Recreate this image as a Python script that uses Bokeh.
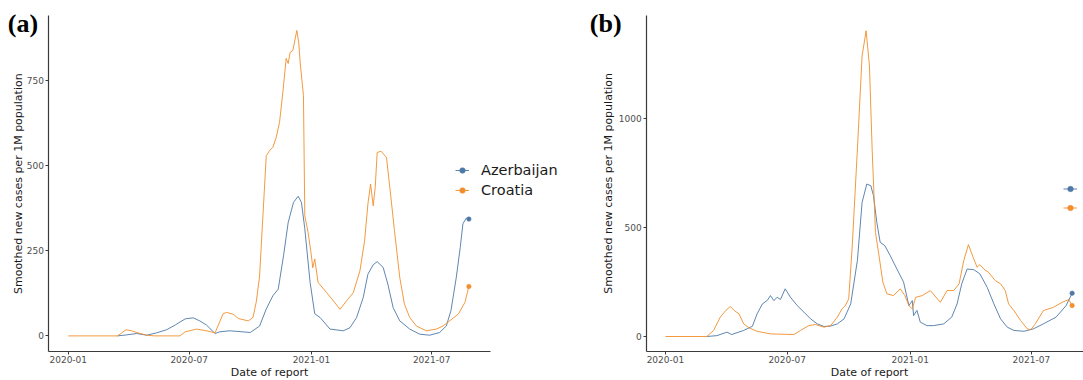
import pandas as pd
from bokeh.plotting import figure
from bokeh.layouts import row
from bokeh.models import (Range1d, FixedTicker, DatetimeTickFormatter, Legend,
                          LegendItem, Label)
from bokeh.embed import file_html
from bokeh.resources import INLINE

COUNTRIES = ["Azerbaijan", "Croatia"]
COLORS = ["#4e79a7", "#f28e2b"]

X_TICKS = ["2020-01-01", "2020-07-01", "2021-01-01", "2021-07-01"]
A_Y_TICKS = [0, 250, 500, 750]
B_Y_TICKS = [0, 500, 1000]
Y_LABEL = "Smoothed new cases per 1M population"
X_LABEL = "Date of report"

# ---------------- panel (a) ----------------
a_aze_dates = ["2020-03-15", "2020-03-29", "2020-04-13", "2020-04-28", "2020-05-13",
               "2020-05-28", "2020-06-10", "2020-06-25", "2020-07-07", "2020-07-17",
               "2020-07-27", "2020-08-09", "2020-08-16", "2020-08-31", "2020-10-01",
               "2020-10-15", "2020-10-25", "2020-11-04", "2020-11-12", "2020-11-20",
               "2020-11-27", "2020-12-05", "2020-12-12", "2020-12-17", "2020-12-22",
               "2020-12-30", "2021-01-06", "2021-01-14", "2021-01-29", "2021-02-18",
               "2021-02-28", "2021-03-10", "2021-03-20", "2021-03-27", "2021-04-04",
               "2021-04-10", "2021-04-19", "2021-04-26", "2021-05-04", "2021-05-14",
               "2021-05-29", "2021-06-13", "2021-06-28", "2021-07-13", "2021-07-23",
               "2021-07-30", "2021-08-07", "2021-08-13", "2021-08-17", "2021-08-22",
               "2021-08-26"]
a_aze_vals = [0, 3, 7, 2, 9,
              18, 32, 50, 53, 44,
              32, 7, 12, 15, 10,
              29, 79, 118, 137, 235,
              333, 392, 410, 392, 315,
              157, 65, 54, 20, 15,
              24, 54, 113, 181, 209,
              218, 201, 152, 83, 44,
              20, 5, 2, 10, 29,
              74, 171, 260, 329, 346,
              343]

a_cro_dates = ["2020-01-01", "2020-03-15", "2020-03-21", "2020-03-28", "2020-04-05",
               "2020-04-13", "2020-04-28", "2020-05-10", "2020-06-17", "2020-06-25",
               "2020-07-12", "2020-07-27", "2020-08-09", "2020-08-21", "2020-08-26",
               "2020-09-05", "2020-09-13", "2020-09-28", "2020-10-05", "2020-10-10",
               "2020-10-15", "2020-10-20", "2020-10-25", "2020-10-30", "2020-11-04",
               "2020-11-09", "2020-11-14", "2020-11-19", "2020-11-24", "2020-11-27",
               "2020-11-30", "2020-12-04", "2020-12-10", "2020-12-13", "2020-12-15",
               "2020-12-20", "2020-12-22", "2020-12-27", "2021-01-01", "2021-01-03",
               "2021-01-06", "2021-01-11", "2021-01-24", "2021-02-05", "2021-02-13",
               "2021-02-23", "2021-03-05", "2021-03-15", "2021-03-22", "2021-03-27",
               "2021-03-31", "2021-04-04", "2021-04-07", "2021-04-10", "2021-04-16",
               "2021-04-24", "2021-04-29", "2021-05-06", "2021-05-14", "2021-05-21",
               "2021-05-29", "2021-06-08", "2021-06-23", "2021-07-08", "2021-07-18",
               "2021-07-28", "2021-08-10", "2021-08-20", "2021-08-26"]
a_cro_vals = [0, 0, 8, 18, 15,
              10, 2, 0, 0, 12,
              20, 15, 9, 65, 69,
              64, 51, 44, 54, 100,
              176, 353, 529, 544, 554,
              583, 627, 716, 815, 800,
              833, 838, 897, 860, 804,
              706, 353, 304, 235, 200,
              226, 157, 127, 98, 78,
              103, 127, 191, 279, 387,
              446, 382, 436, 539, 542,
              524, 436, 309, 171, 93,
              54, 29, 15, 20, 29,
              44, 64, 98, 145]

# ---------------- panel (b) ----------------
b_aze_dates = ["2020-03-03", "2020-03-18", "2020-04-02", "2020-04-09", "2020-04-27",
               "2020-05-10", "2020-05-17", "2020-05-25", "2020-06-01", "2020-06-06",
               "2020-06-11", "2020-06-16", "2020-06-21", "2020-06-28", "2020-07-06",
               "2020-07-16", "2020-07-26", "2020-08-05", "2020-08-15", "2020-08-25",
               "2020-09-04", "2020-09-14", "2020-09-24", "2020-10-04", "2020-10-14",
               "2020-10-21", "2020-10-28", "2020-11-03", "2020-11-07", "2020-11-12",
               "2020-11-17", "2020-11-24", "2020-12-02", "2020-12-12", "2020-12-22",
               "2020-12-30", "2021-01-04", "2021-01-06", "2021-01-11", "2021-01-16",
               "2021-01-26", "2021-02-05", "2021-02-20", "2021-03-04", "2021-03-12",
               "2021-03-19", "2021-03-27", "2021-04-06", "2021-04-15", "2021-04-26",
               "2021-05-06", "2021-05-16", "2021-05-26", "2021-06-05", "2021-06-20",
               "2021-07-04", "2021-07-19", "2021-08-07", "2021-08-22", "2021-08-31"]
b_aze_vals = [0, 4, 20, 9, 28,
              47, 104, 150, 165, 188,
              165, 180, 170, 219, 180,
              142, 112, 81, 58, 46,
              48, 58, 81, 150, 350,
              616, 700, 693, 647, 524,
              433, 417, 372, 310, 250,
              142, 165, 96, 120, 66,
              50, 50, 58, 89, 150,
              242, 310, 307, 288, 226,
              150, 81, 43, 28, 24,
              35, 58, 89, 142, 199]

b_cro_dates = ["2020-01-01", "2020-03-03", "2020-03-13", "2020-03-23", "2020-03-31",
               "2020-04-07", "2020-04-13", "2020-04-20", "2020-04-27", "2020-05-05",
               "2020-05-17", "2020-06-06", "2020-07-11", "2020-07-21", "2020-08-02",
               "2020-08-12", "2020-08-25", "2020-09-04", "2020-09-14", "2020-09-21",
               "2020-09-26", "2020-10-01", "2020-10-06", "2020-10-14", "2020-10-21",
               "2020-10-27", "2020-11-01", "2020-11-05", "2020-11-10", "2020-11-16",
               "2020-11-21", "2020-11-27", "2020-12-07", "2020-12-17", "2020-12-24",
               "2020-12-30", "2021-01-04", "2021-01-09", "2021-01-19", "2021-01-31",
               "2021-02-15", "2021-02-25", "2021-03-07", "2021-03-15", "2021-03-22",
               "2021-03-29", "2021-04-05", "2021-04-11", "2021-04-15", "2021-04-21",
               "2021-04-28", "2021-05-08", "2021-05-16", "2021-05-23", "2021-05-28",
               "2021-06-05", "2021-06-15", "2021-06-25", "2021-06-30", "2021-07-07",
               "2021-07-19", "2021-08-03", "2021-08-16", "2021-08-26", "2021-08-31"]
b_cro_vals = [0, 0, 28, 89, 119,
              138, 119, 104, 58, 40,
              24, 12, 9, 28, 50,
              55, 43, 50, 89, 127,
              142, 173, 402, 861, 1289,
              1404, 1243, 861, 478, 356,
              250, 196, 188, 219, 188,
              142, 127, 180, 188, 211,
              157, 211, 211, 242, 349,
              422, 364, 318, 330, 310,
              295, 257, 242, 211, 150,
              119, 73, 35, 31, 58,
              119, 134, 157, 170, 142]


def ms(s):
    return pd.Timestamp(s).value / 1e6


def make_panel(tag, tag_pos, series, view_x, axis_x, view_y, axis_y, y_ticks,
               xlab_pos, ylab_pos, width, legend_loc, legend_row, show_labels):
    p = figure(width=width, height=380, x_axis_type="datetime",
               output_backend="svg", toolbar_location=None,
               x_range=Range1d(ms(view_x[0]), ms(view_x[1])),
               y_range=Range1d(view_y[0], view_y[1]),
               min_border_left=0, min_border_right=0,
               min_border_top=0, min_border_bottom=0,
               background_fill_color="white", border_fill_color="white")
    p.outline_line_color = None
    p.xgrid.visible = False
    p.ygrid.visible = False
    for ax in (p.xaxis[0], p.yaxis[0]):
        ax.axis_line_color = "#3a3a3a"
        ax.axis_line_width = 1.2
        ax.major_tick_line_color = "#3a3a3a"
        ax.major_tick_in = 0
        ax.major_tick_out = 3
        ax.minor_tick_line_color = None
        ax.major_label_text_font = "DejaVu Sans"
        ax.major_label_text_font_size = "9px"
        ax.major_label_text_color = "#4d4d4d"
        ax.major_label_standoff = 2
    p.xaxis.major_label_standoff = 1
    # axes drawn at fixed data positions, limited to their bounds
    p.xaxis.bounds = (ms(axis_x[0]), ms(axis_x[1]))
    p.yaxis.bounds = (axis_y[0], axis_y[1])
    p.yaxis.fixed_location = ms(axis_x[0])
    p.xaxis.fixed_location = axis_y[0]
    p.xaxis.ticker = FixedTicker(ticks=[ms(t) for t in X_TICKS])
    fmt = "%Y-%m"
    p.xaxis.formatter = DatetimeTickFormatter(
        microseconds=fmt, milliseconds=fmt, seconds=fmt, minsec=fmt,
        minutes=fmt, hourmin=fmt, hours=fmt, days=fmt, months=fmt, years=fmt)
    p.yaxis.ticker = FixedTicker(ticks=y_ticks)

    # axis titles
    p.add_layout(Label(x=ms(xlab_pos[0]), y=xlab_pos[1], text=X_LABEL,
                       text_font="DejaVu Sans", text_font_size="11px",
                       text_color="#1a1a1a", text_align="center",
                       text_baseline="middle"))
    p.add_layout(Label(x=ms(ylab_pos[0]), y=ylab_pos[1], text=Y_LABEL,
                       text_font="DejaVu Sans", text_font_size="11px",
                       text_color="#1a1a1a", text_align="center",
                       text_baseline="middle", angle=90, angle_units="deg"))

    items = []
    for name, dates, vals, color in series:
        xs = pd.to_datetime(dates)
        ln = p.line(xs, vals, line_color=color, line_width=1.0, line_alpha=0.9)
        pt = p.scatter([xs[-1]], [vals[-1]], size=4.5, fill_color=color,
                       line_color=color, line_width=0.5)
        items.append(LegendItem(label=name if show_labels else "",
                                renderers=[ln, pt]))
    legend = Legend(items=items, location=legend_loc,
                    padding=0, margin=0, spacing=0,
                    glyph_width=14, glyph_height=legend_row,
                    label_height=legend_row,
                    label_width=0 if not show_labels else 20,
                    label_standoff=12 if show_labels else 0,
                    label_text_font="DejaVu Sans",
                    label_text_font_size="14.5px",
                    label_text_color="#1a1a1a",
                    border_line_color=None,
                    background_fill_alpha=0)
    p.add_layout(legend)

    p.add_layout(Label(x=ms(tag_pos[0]), y=tag_pos[1], text=tag,
                       text_font="Liberation Serif", text_font_style="bold",
                       text_font_size="26px", text_color="black",
                       text_baseline="middle", text_align="left"))
    return p


pa = make_panel("(a)", ("2019-10-02", 917),
                [(COUNTRIES[0], a_aze_dates, a_aze_vals, COLORS[0]),
                 (COUNTRIES[1], a_cro_dates, a_cro_vals, COLORS[1])],
                view_x=("2019-09-21", "2022-02-10"),
                axis_x=("2019-12-03", "2021-09-27"),
                view_y=(-131, 985), axis_y=(-46, 941), y_ticks=A_Y_TICKS,
                xlab_pos=("2020-10-30", -108), ylab_pos=("2019-10-18", 447),
                width=580, legend_loc=(455, 180), legend_row=20,
                show_labels=True)

pb = make_panel("(b)", ("2019-09-10", 1438),
                [(COUNTRIES[0], b_aze_dates, b_aze_vals, COLORS[0]),
                 (COUNTRIES[1], b_cro_dates, b_cro_vals, COLORS[1])],
                view_x=("2019-08-27", "2021-09-17"),
                axis_x=("2019-12-04", "2021-09-30"),
                view_y=(-202, 1543), axis_y=(-69, 1474), y_ticks=B_Y_TICKS,
                xlab_pos=("2020-11-01", -165), ylab_pos=("2019-10-08", 703),
                width=503, legend_loc=(483, 163), legend_row=19,
                show_labels=False)

layout = row(pa, pb, spacing=0)
open("out.html", "w").write(file_html(layout, INLINE))
